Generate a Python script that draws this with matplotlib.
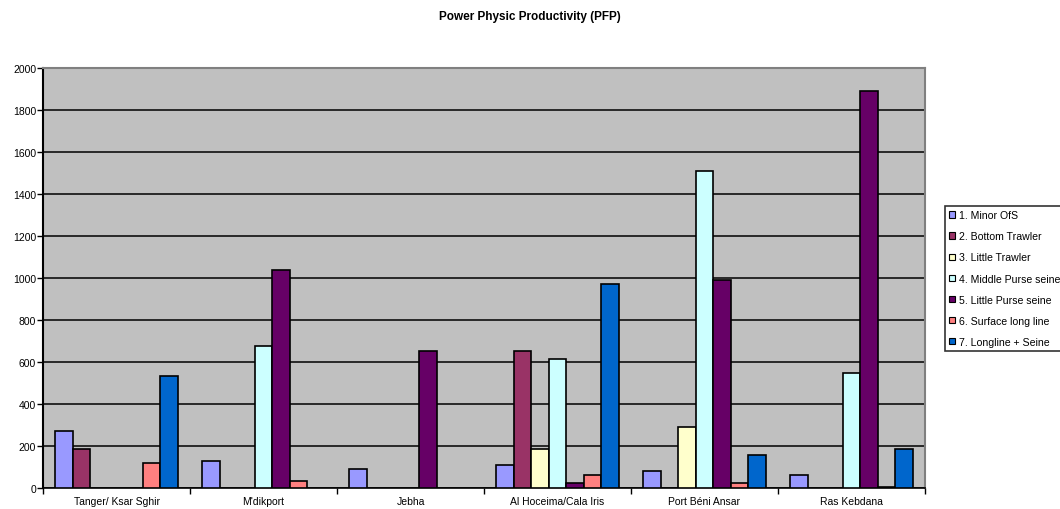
import numpy as np
import matplotlib
matplotlib.use("Agg")
import matplotlib.pyplot as plt
from matplotlib.patches import Patch

plt.rcParams['font.family'] = ['Liberation Sans', 'DejaVu Sans']

ports = ["Tanger/ Ksar Sghir", "M'dikport", "Jebha", "Al Hoceima/Cala Iris",
         "Port Béni Ansar", "Ras Kebdana"]

minor_ofs = [272, 129, 91, 110, 81, 62]
bottom_trawler = [186, 0, 0, 653, 0, 0]
little_trawler = [0, 0, 0, 186, 291, 0]
middle_purse = [0, 674, 0, 615, 1512, 548]
little_purse = [0, 1037, 653, 24, 990, 1893]
surface_longline = [119, 33, 0, 62, 24, 5]
longline_seine = [531, 0, 0, 970, 157, 186]

series_names = ["1. Minor OfS", "2. Bottom Trawler", "3. Little Trawler",
                "4. Middle Purse seine", "5. Little Purse seine",
                "6. Surface long line", "7. Longline + Seine"]
colors = ["#9999FF", "#993366", "#FFFFCC", "#CCFFFF", "#660066", "#FF8080", "#0066CC"]

series = [minor_ofs, bottom_trawler, little_trawler, middle_purse,
          little_purse, surface_longline, longline_seine]

fig = plt.figure(figsize=(10.6, 5.1), dpi=100)
ax = fig.add_axes([0.0406, 0.0418, 0.832, 0.822])
ax.set_facecolor("#C0C0C0")

x = np.arange(len(ports))
w = 0.119
for i, (vals, c) in enumerate(zip(series, colors)):
    vals = np.array(vals, dtype=float)
    pos = x + (i - 3) * w
    mask = vals > 0
    ax.bar(pos[mask], vals[mask], width=w, color=c, edgecolor="black",
           linewidth=1.2, zorder=3)

ax.set_xlim(-0.5, len(ports) - 0.5)
ax.set_ylim(0, 2000)
ax.set_yticks(np.arange(0, 2001, 200))
ax.yaxis.grid(True, color="black", linewidth=1.1, zorder=1)
ax.set_axisbelow(True)
ax.tick_params(axis="y", labelsize=7.5, length=4, width=1, pad=1)

ax.set_xticks(x)
ax.set_xticklabels(ports, fontsize=7.5)
ax.set_xticks(np.arange(-0.5, len(ports), 1), minor=True)
ax.tick_params(axis="x", which="major", length=0, pad=6)
ax.tick_params(axis="x", which="minor", length=4, width=1)

ax.spines["left"].set_linewidth(1.5)
ax.spines["bottom"].set_linewidth(1.2)
ax.spines["top"].set_color("#808080")
ax.spines["right"].set_color("#808080")
ax.spines["top"].set_linewidth(1.5)
ax.spines["right"].set_linewidth(1.5)

# title is centred over the whole chart, not the plot area
fig.text(0.5, 0.966, "Power Physic Productivity (PFP)", ha="center",
         va="center", fontsize=8.5, fontweight="bold")

handles = [Patch(facecolor=c, edgecolor="black", linewidth=0.8) for c in colors]
leg = fig.legend(handles, series_names, loc="upper left",
                 bbox_to_anchor=(0.8915, 0.594), fontsize=7.6, frameon=True,
                 fancybox=False, edgecolor="black", handlelength=0.55,
                 handleheight=0.55, handletextpad=0.4, labelspacing=1.05,
                 borderpad=0.4, borderaxespad=0)
leg.get_frame().set_linewidth(1.2)

fig.savefig("out.png", dpi=100)
